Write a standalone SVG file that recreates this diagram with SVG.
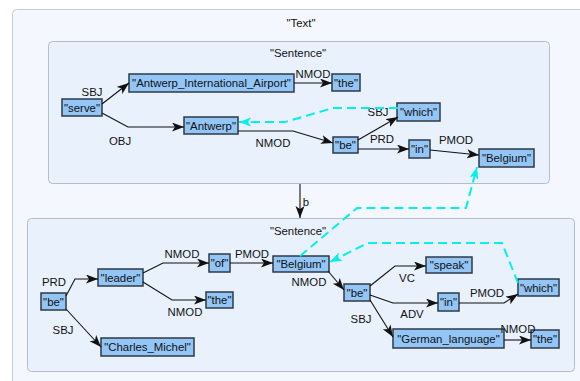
<svg xmlns="http://www.w3.org/2000/svg" width="580" height="381" viewBox="0 0 580 381">
<style>
text{font-family:"Liberation Sans",Arial,sans-serif;font-size:11.4px;fill:#111;text-anchor:middle}
.cont{fill:#f4f8fe;stroke:#c4ccd4;stroke-width:1}
.sent{fill:#e8f1fc;stroke:#b4bec8;stroke-width:1}
.node rect{fill:#93c6f7;stroke:#2e3a44;stroke-width:1.5}
.e{fill:none;stroke:#111;stroke-width:1.1;marker-end:url(#ah)}
.c{fill:none;stroke:#00f0f0;stroke-width:2;stroke-dasharray:9,5;marker-end:url(#ch)}
</style>
<defs>
<marker id="ah" markerUnits="userSpaceOnUse" markerWidth="13" markerHeight="10" refX="12" refY="4.5" orient="auto">
<path d="M0,0 L12,4.5 L0,9 L3,4.5 z" fill="#111"/>
</marker>
<marker id="ch" markerUnits="userSpaceOnUse" markerWidth="13" markerHeight="10" refX="12" refY="4.5" orient="auto">
<path d="M0,0 L12,4.5 L0,9 L3,4.5 z" fill="#00f0f0"/>
</marker>
</defs>
<g id="text-container">
<rect class="cont" x="12.5" y="9.5" width="580" height="380" rx="4"/>
<text x="301" y="27">"Text"</text>
</g>
<g id="sentence1">
<rect class="sent" x="48.5" y="41.5" width="501" height="142" rx="4"/>
<text x="298" y="57">"Sentence"</text>
</g>
<g id="sentence2">
<rect class="sent" x="27.5" y="218.5" width="547" height="153" rx="4"/>
<text x="298" y="235">"Sentence"</text>
</g>
<g id="n_serve" class="node"><rect x="62" y="99" width="40" height="17"/><text x="82" y="111.5">"serve"</text></g>
<g id="n_airport" class="node"><rect x="129" y="74" width="165" height="18"/><text x="211.5" y="87">"Antwerp_International_Airport"</text></g>
<g id="n_the1" class="node"><rect x="332" y="74" width="28" height="17"/><text x="346" y="86.5">"the"</text></g>
<g id="n_antwerp" class="node"><rect x="184" y="117" width="54" height="17"/><text x="211" y="129.5">"Antwerp"</text></g>
<g id="n_which1" class="node"><rect x="397" y="103" width="43" height="18"/><text x="418.5" y="116">"which"</text></g>
<g id="n_be1" class="node"><rect x="333" y="137" width="25" height="16"/><text x="345.5" y="149">"be"</text></g>
<g id="n_in1" class="node"><rect x="409" y="140" width="21" height="18"/><text x="419.5" y="153">"in"</text></g>
<g id="n_belgium1" class="node"><rect x="479" y="149" width="55" height="18"/><text x="506.5" y="162">"Belgium"</text></g>
<g id="n_be2" class="node"><rect x="41" y="293" width="25" height="17"/><text x="53.5" y="305.5">"be"</text></g>
<g id="n_leader" class="node"><rect x="98" y="269" width="45" height="17"/><text x="120.5" y="281.5">"leader"</text></g>
<g id="n_of" class="node"><rect x="209" y="254" width="21" height="18"/><text x="219.5" y="267">"of"</text></g>
<g id="n_the2" class="node"><rect x="206" y="292" width="27" height="16"/><text x="219.5" y="304">"the"</text></g>
<g id="n_charles" class="node"><rect x="101" y="338" width="93" height="18"/><text x="147.5" y="351">"Charles_Michel"</text></g>
<g id="n_belgium2" class="node"><rect x="273" y="256" width="56" height="16"/><text x="301" y="268">"Belgium"</text></g>
<g id="n_be3" class="node"><rect x="344" y="284" width="26" height="17"/><text x="357" y="296.5">"be"</text></g>
<g id="n_speak" class="node"><rect x="426" y="257" width="46" height="16"/><text x="449" y="269">"speak"</text></g>
<g id="n_in2" class="node"><rect x="438" y="293" width="21" height="18"/><text x="448.5" y="306">"in"</text></g>
<g id="n_which2" class="node"><rect x="518" y="279" width="41" height="17"/><text x="538.5" y="291.5">"which"</text></g>
<g id="n_german" class="node"><rect x="393" y="329" width="111" height="19"/><text x="448.5" y="342.5">"German_language"</text></g>
<g id="n_the3" class="node"><rect x="531" y="330" width="28" height="18"/><text x="545" y="343">"the"</text></g>
<g id="connectors">
<path class="e" d="M300,184 L300,218"/><text x="306" y="206">b</text>
<path class="e" d="M102,104 L129,83"/><text x="92" y="96">SBJ</text>
<path class="e" d="M102,113 L128,127 L184,127"/><text x="120" y="145">OBJ</text>
<path class="e" d="M294,83 L332,83"/><text x="313" y="78">NMOD</text>
<path class="e" d="M238,131 L293,131 L333,143"/><text x="273" y="147">NMOD</text>
<path class="e" d="M358,140 L398,117"/><text x="378" y="116">SBJ</text>
<path class="e" d="M358,149 L409,149"/><text x="382" y="143">PRD</text>
<path class="e" d="M430,150 L479,155"/><text x="456" y="144">PMOD</text>
<path class="c" d="M398,108 L333,108 L285,122 L239,122"/>
<path class="c" d="M300,256 L357,208 L466,208 L477,167"/>
<path class="e" d="M66,296 L75,279 L98,279"/><text x="54" y="286">PRD</text>
<path class="e" d="M66,309 L101,347"/><text x="63" y="334">SBJ</text>
<path class="e" d="M143,273 L163,263 L209,263"/><text x="182" y="258">NMOD</text>
<path class="e" d="M143,282 L172,300 L206,300"/><text x="185" y="316">NMOD</text>
<path class="e" d="M230,263 L273,263"/><text x="252" y="258">PMOD</text>
<path class="e" d="M328,271 L344,290"/><text x="309" y="286">NMOD</text>
<path class="e" d="M370,286 L395,266 L426,266"/><text x="407" y="282">VC</text>
<path class="e" d="M370,295 L393,303 L438,303"/><text x="412" y="318">ADV</text>
<path class="e" d="M370,300 L393,337"/><text x="361" y="323">SBJ</text>
<path class="e" d="M459,303 L504,303 L518,294"/><text x="487" y="297">PMOD</text>
<path class="e" d="M504,340 L531,340"/><text x="518" y="333">NMOD</text>
<path class="c" d="M518,283 L502,243 L368,243 L330,262"/>
</g>
</svg>
